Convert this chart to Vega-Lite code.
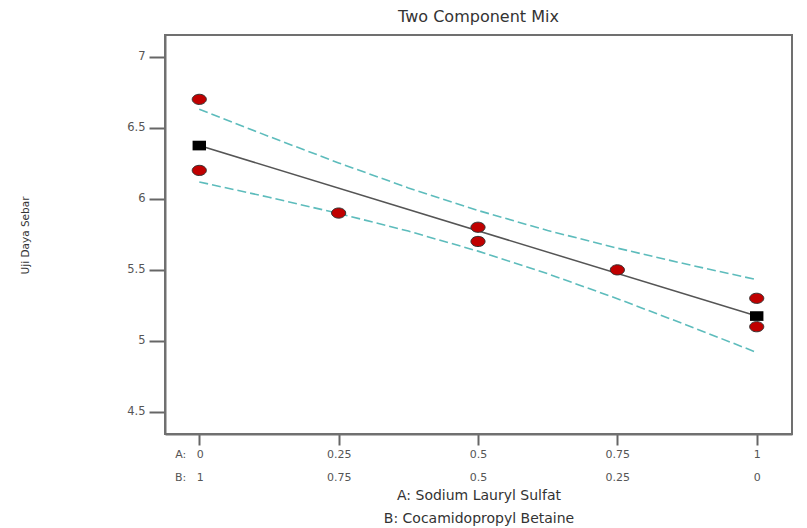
{
  "$schema": "https://vega.github.io/schema/vega-lite/v6.json",
  "width": 627,
  "height": 399,
  "autosize": {"type": "none"},
  "padding": {"left": 165, "top": 35, "right": 15, "bottom": 94},
  "background": "white",
  "title": {"text": "Two Component Mix", "fontSize": 16, "font": "DejaVu Sans", "fontWeight": "normal", "color": "#333", "anchor": "middle", "offset": 10},
  "config": {
    "view": {"stroke": "#707070", "strokeWidth": 2},
    "font": "DejaVu Sans"
  },
  "datasets": {
    "obs": [
      {"a": 0, "y": 6.7}, {"a": 0, "y": 6.2}, {"a": 0.25, "y": 5.9},
      {"a": 0.5, "y": 5.8}, {"a": 0.5, "y": 5.7}, {"a": 0.75, "y": 5.5},
      {"a": 1, "y": 5.3}, {"a": 1, "y": 5.1}
    ],
    "fit": [{"a": 0, "y": 6.375}, {"a": 1, "y": 5.175}],
    "band": [
      {"a": 0, "y": 6.631, "b": "upper"}, {"a": 0.125, "y": 6.439, "b": "upper"},
      {"a": 0.25, "y": 6.253, "b": "upper"}, {"a": 0.375, "y": 6.077, "b": "upper"},
      {"a": 0.5, "y": 5.918, "b": "upper"}, {"a": 0.625, "y": 5.777, "b": "upper"},
      {"a": 0.75, "y": 5.653, "b": "upper"}, {"a": 0.875, "y": 5.539, "b": "upper"},
      {"a": 1, "y": 5.431, "b": "upper"},
      {"a": 0, "y": 6.119, "b": "lower"}, {"a": 0.125, "y": 6.011, "b": "lower"},
      {"a": 0.25, "y": 5.897, "b": "lower"}, {"a": 0.375, "y": 5.773, "b": "lower"},
      {"a": 0.5, "y": 5.632, "b": "lower"}, {"a": 0.625, "y": 5.473, "b": "lower"},
      {"a": 0.75, "y": 5.297, "b": "lower"}, {"a": 0.875, "y": 5.111, "b": "lower"},
      {"a": 1, "y": 4.919, "b": "lower"}
    ]
  },
  "encoding": {
    "x": {
      "field": "a", "type": "quantitative",
      "scale": {"domain": [-0.0615, 1.0633], "nice": false, "zero": false},
      "axis": {
        "values": [0, 0.25, 0.5, 0.75, 1],
        "grid": false,
        "title": ["A: Sodium Lauryl Sulfat", "B: Cocamidopropyl Betaine"],
        "titleFontSize": 14, "titleFontWeight": "normal", "titleColor": "#333", "titleLineHeight": 23, "titlePadding": 6,
        "labelExpr": "datum.value == 0 ? ['A:\u00a0\u00a0\u00a00', 'B:\u00a0\u00a0\u00a01'] : ['' + datum.value, '' + (1 - datum.value)]",
        "labelAlign": {"condition": {"test": "datum.value == 0", "value": "right"}, "value": "center"},
        "labelOffset": {"condition": {"test": "datum.value == 0", "value": 4}, "value": 0},
        "labelFontSize": 11, "labelColor": "#555", "labelLineHeight": 23, "labelPadding": 3,
        "tickSize": 11, "tickWidth": 2, "tickColor": "#666",
        "domainColor": "#707070", "domainWidth": 2
      }
    },
    "y": {
      "field": "y", "type": "quantitative",
      "scale": {"domain": [4.345, 7.153], "nice": false, "zero": false},
      "axis": {
        "values": [4.5, 5, 5.5, 6, 6.5, 7],
        "grid": false,
        "labelExpr": "'' + datum.value",
        "title": "Uji Daya Sebar",
        "titleFontSize": 10.5, "titleFontWeight": "normal", "titleColor": "#333",
        "titleX": -140, "titleY": 200, "titleAngle": -90, "titleAlign": "center", "titleBaseline": "middle",
        "labelFontSize": 11.5, "labelColor": "#555", "labelPadding": 4,
        "tickSize": 16, "tickWidth": 2, "tickColor": "#666",
        "domainColor": "#707070", "domainWidth": 2
      }
    }
  },
  "layer": [
    {
      "data": {"name": "band"},
      "mark": {"type": "line", "color": "#5dbcbc", "strokeWidth": 1.6, "strokeDash": [9, 4]},
      "encoding": {"detail": {"field": "b"}}
    },
    {
      "data": {"name": "fit"},
      "mark": {"type": "line", "color": "#555", "strokeWidth": 1.5},
      "encoding": {}
    },
    {
      "data": {"name": "fit"},
      "mark": {"type": "point", "shape": "M-1,-0.72H1V0.72H-1Z", "filled": true, "color": "#000", "opacity": 1, "size": 180},
      "encoding": {}
    },
    {
      "data": {"name": "obs"},
      "mark": {"type": "point", "shape": "M-1,0A1,0.72 0 1,0 1,0A1,0.72 0 1,0 -1,0Z", "filled": true, "fill": "#c00000", "stroke": "#333", "strokeWidth": 1, "opacity": 1, "size": 200},
      "encoding": {}
    }
  ]
}
